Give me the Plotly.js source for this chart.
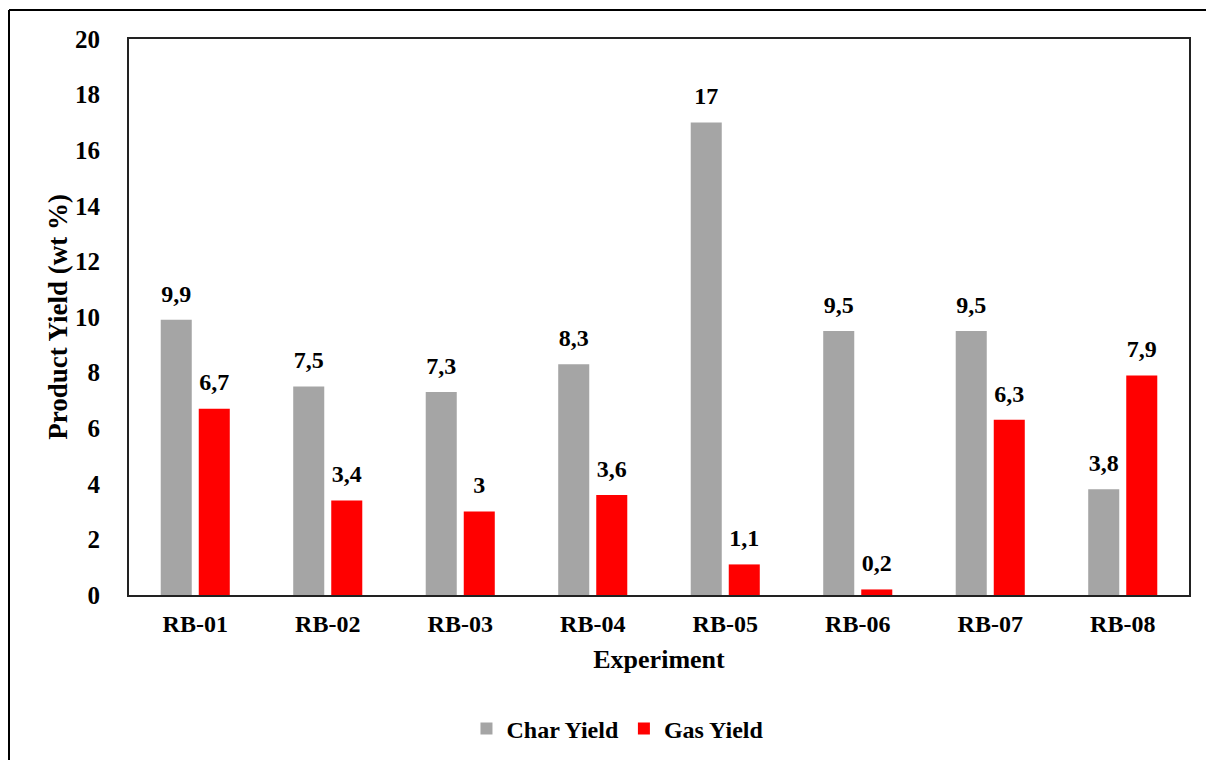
<!DOCTYPE html>
<html>
<head>
<meta charset="utf-8">
<script src="https://cdn.plot.ly/plotly-3.0.1.min.js"></script>
<style>
html,body{margin:0;padding:0;background:#fff;}
#chart{width:1206px;height:760px;}
</style>
</head>
<body>
<div id="chart"></div>
<script>
var categories = ["RB-01","RB-02","RB-03","RB-04","RB-05","RB-06","RB-07","RB-08"];
var charYield = [9.9, 7.5, 7.3, 8.3, 17, 9.5, 9.5, 3.8];
var gasYield = [6.7, 3.4, 3, 3.6, 1.1, 0.2, 6.3, 7.9];
var yTicks = [0,2,4,6,8,10,12,14,16,18,20];

function fmt(v){ return String(v).replace('.', ','); }

var FAM = 'Times New Roman, Liberation Serif, serif';
var GAP = 0.426;

function labels(vals, name){
  return {type:'scatter', mode:'markers+text', name:name+' labels', x:categories, y:vals,
    text:vals.map(fmt), textposition:'top center', showlegend:false, hoverinfo:'skip',
    marker:{size:18, color:'rgba(0,0,0,0)'}, cliponaxis:false,
    textfont:{family:FAM, size:24, color:'#000', weight:'bold'}};
}

var traces = [
  {type:'bar', name:'Char Yield', x:categories, y:charYield, marker:{color:'#a5a5a5'}},
  {type:'bar', name:'Gas Yield', x:categories, y:gasYield, marker:{color:'#ff0000'}},
  labels(charYield, 'Char Yield'),
  labels(gasYield, 'Gas Yield')
];

var L = 129, R = 1189, T = 39, B = 595;
var pw = R - L, ph = B - T;

var layout = {
  width:1206, height:760,
  margin:{l:L, r:1206-R, t:T, b:760-B, pad:0},
  paper_bgcolor:'#fff', plot_bgcolor:'#fff',
  font:{family:FAM, color:'#000', size:20, weight:'bold'},
  barmode:'group', bargap:GAP, bargroupgap:0.184,
  scattermode:'group', scattergap:GAP,
  showlegend:true,
  legend:{orientation:'h', xref:'container', yref:'container', x:0.512, xanchor:'center', y:0.041, yanchor:'middle',
          font:{family:FAM, size:24, color:'#000', weight:'bold'},
          itemwidth:30, traceorder:'normal'},
  xaxis:{showgrid:false, showline:true, linecolor:'#222', linewidth:2, mirror:true,
         ticks:'', ticklabelstandoff:6,
         tickfont:{family:FAM, size:24, color:'#000', weight:'bold'},
         title:{text:'Experiment', font:{family:FAM, size:26, color:'#000', weight:'bold'}, standoff:14}},
  yaxis:{range:[0,20], tickvals:yTicks, ticktext:yTicks.map(String), showgrid:false, zeroline:false,
         showline:true, linecolor:'#222', linewidth:2, mirror:true, ticks:'',
         ticklabelstandoff:22,
         tickfont:{family:FAM, size:25, color:'#000', weight:'bold'},
         title:{text:'Product Yield (wt %)', font:{family:FAM, size:27, color:'#000', weight:'bold'}, standoff:0}},
  shapes:[
    {type:'line', xref:'paper', yref:'paper', x0:(9-L)/pw, x1:(1206-L)/pw, y0:(B-10)/ph, y1:(B-10)/ph,
     line:{color:'#000', width:2}},
    {type:'line', xref:'paper', yref:'paper', x0:(9-L)/pw, x1:(9-L)/pw, y0:(B-10)/ph, y1:(B-770)/ph,
     line:{color:'#000', width:2}}
  ]
};

Plotly.newPlot('chart', traces, layout, {displayModeBar:false, staticPlot:true});
</script>
</body>
</html>
